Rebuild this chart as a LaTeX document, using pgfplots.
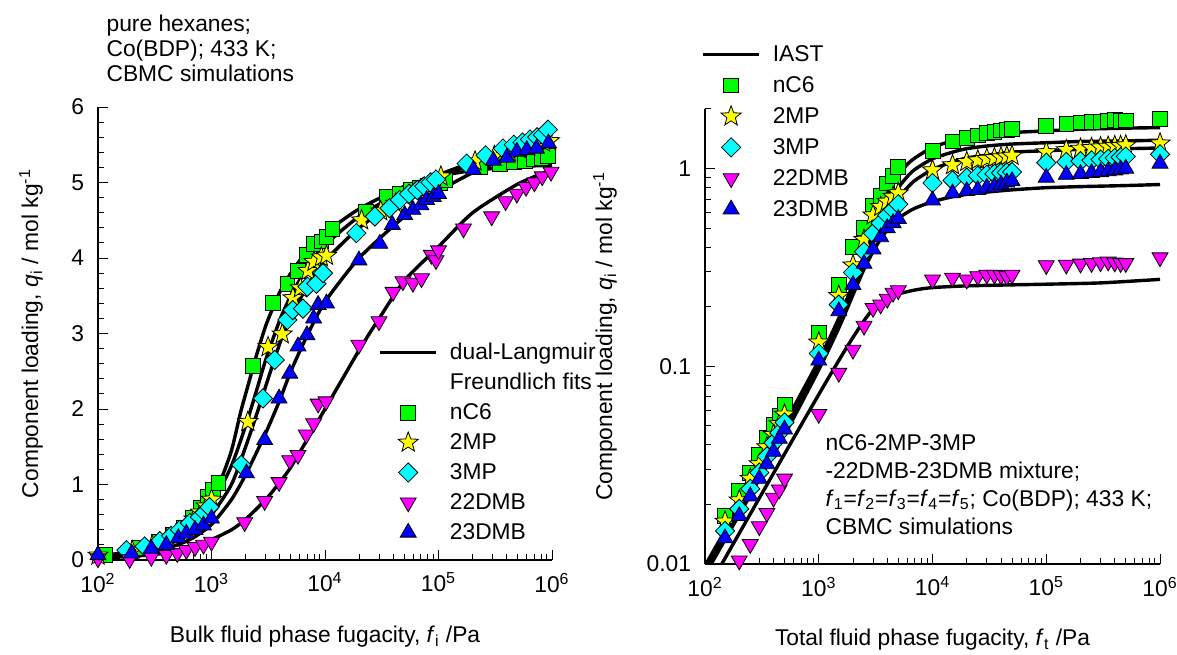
\documentclass[border=0pt]{standalone}
\usepackage{fontspec}
\setmainfont{Liberation Sans}
\usepackage{pgfplots}
\pgfplotsset{compat=1.18}

\definecolor{cgreen}{RGB}{0,255,0}
\definecolor{cyellow}{RGB}{255,255,0}
\definecolor{ccyan}{RGB}{0,255,255}
\definecolor{cmag}{RGB}{255,0,255}
\definecolor{cblue}{RGB}{0,0,255}

\pgfdeclareplotmark{fstar}{%
  \pgfpathmoveto{\pgfpointpolar{90}{\pgfplotmarksize}}%
  \pgfpathlineto{\pgfpointpolar{126}{0.42\pgfplotmarksize}}%
  \pgfpathlineto{\pgfpointpolar{162}{\pgfplotmarksize}}%
  \pgfpathlineto{\pgfpointpolar{198}{0.42\pgfplotmarksize}}%
  \pgfpathlineto{\pgfpointpolar{234}{\pgfplotmarksize}}%
  \pgfpathlineto{\pgfpointpolar{270}{0.42\pgfplotmarksize}}%
  \pgfpathlineto{\pgfpointpolar{306}{\pgfplotmarksize}}%
  \pgfpathlineto{\pgfpointpolar{342}{0.42\pgfplotmarksize}}%
  \pgfpathlineto{\pgfpointpolar{18}{\pgfplotmarksize}}%
  \pgfpathlineto{\pgfpointpolar{54}{0.42\pgfplotmarksize}}%
  \pgfpathclose
  \pgfusepathqfillstroke
}

\pgfplotsset{
  sNC/.style={only marks, mark=square*, mark size=3.7pt, mark options={solid, draw=black, fill=cgreen, line width=0.4pt}},
  sMP/.style={only marks, mark=fstar, mark size=5.3pt, mark options={solid, draw=black, fill=cyellow, line width=0.4pt}},
  sTP/.style={only marks, mark=square*, mark size=3.4pt, mark options={solid, draw=black, fill=ccyan, line width=0.4pt, rotate=45}},
  sDD/.style={only marks, mark=triangle*, mark size=4.6pt, mark options={solid, draw=black, fill=cmag, line width=0.4pt, rotate=180}},
  sDT/.style={only marks, mark=triangle*, mark size=4.6pt, mark options={solid, draw=black, fill=cblue, line width=0.4pt}},
  dlf/.style={black, line width=1.7pt, smooth, tension=0.4, no marks, forget plot},
}

\begin{document}
\fontsize{11.4pt}{13.7pt}\selectfont
\begin{tikzpicture}
\useasboundingbox (0,0) rectangle (588.5pt,327pt);

% ---------------- left: pure components ----------------
\begin{axis}[
  scale only axis, xmode=log, xmin=100, xmax=1000000,
  clip mode=individual,
  axis lines=left, axis line style={-, line width=0.6pt},
  tick align=inside, major tick length=5pt, minor tick length=3.2pt,
  tick style={black, line width=0.5pt},
  xtick={100,1000,10000,100000,1000000},
  xticklabels={10\textsuperscript{2},10\textsuperscript{3},10\textsuperscript{4},10\textsuperscript{5},10\textsuperscript{6}},
  minor xtick={200,300,400,500,600,700,800,900,2000,3000,4000,5000,6000,7000,8000,9000,20000,30000,40000,50000,60000,70000,80000,90000,200000,300000,400000,500000,600000,700000,800000,900000},
  xticklabel style={yshift=-2.5pt},
  yticklabel style={xshift=-3pt},
  legend cell align=left,
  legend image code/.code={\draw[mark repeat=2,mark phase=2,#1] plot coordinates {(0pt,0pt) (14pt,0pt) (28pt,0pt)};},
  at={(49pt,47pt)}, anchor=south west, width=227pt, height=226.5pt,
  ymin=0, ymax=6, ytick={0,1,2,3,4,5,6}, yticklabels={0,1,2,3,4,5,6}, minor y tick num=4,
  xlabel={Bulk fluid phase fugacity, \textit{f}\textsubscript{i} /Pa},
  ylabel={Component loading, \textit{q}\textsubscript{i} / mol kg\textsuperscript{-1}},
  xlabel style={at={(axis description cs:0.5,-0.170)}, anchor=center},
  ylabel style={at={(axis description cs:-0.1476,0.5)}, anchor=center},
  legend style={at={(axis description cs:0.617,0.492)}, anchor=north west, draw=none, fill=none,
    inner sep=0pt, row sep=0pt, column sep=6pt,
    nodes={inner sep=0pt, text height=11pt, text depth=4pt}},
]
% fits
\addplot[dlf] coordinates {(100,0.05) (200,0.11) (300,0.18) (500,0.34) (700,0.52) (1000,0.85) (1200,1.05) (1500,1.45) (1800,1.95) (2000,2.2) (2500,2.72) (3000,3.1) (3500,3.35) (4000,3.55) (5000,3.8) (7000,4.1) (10000,4.33) (20000,4.65) (50000,4.95) (100000,5.08) (200000,5.16) (500000,5.21) (1000000,5.23)};
\addplot[dlf] coordinates {(100,0.045) (300,0.16) (500,0.3) (700,0.45) (1000,0.72) (1500,1.25) (2000,1.78) (2500,2.25) (3000,2.65) (4000,3.18) (5000,3.5) (7000,3.88) (10000,4.17) (20000,4.55) (50000,4.9) (100000,5.1) (200000,5.27) (500000,5.45) (1000000,5.55)};
\addplot[dlf] coordinates {(100,0.04) (300,0.14) (500,0.26) (700,0.39) (1000,0.6) (1500,1.0) (2000,1.5) (2500,1.93) (3000,2.3) (4000,2.87) (5000,3.22) (7000,3.63) (10000,3.96) (20000,4.4) (50000,4.82) (100000,5.05) (200000,5.25) (500000,5.47) (1000000,5.62)};
\addplot[dlf] coordinates {(100,0.035) (300,0.11) (500,0.2) (700,0.3) (1000,0.47) (1500,0.8) (2000,1.13) (3000,1.68) (4000,2.12) (5000,2.5) (7000,2.98) (10000,3.42) (20000,4.0) (50000,4.55) (100000,4.88) (200000,5.13) (500000,5.38) (1000000,5.52)};
\addplot[dlf] coordinates {(100,0.02) (300,0.07) (500,0.12) (700,0.18) (1000,0.27) (1500,0.4) (2000,0.54) (3000,0.8) (4000,1.03) (5000,1.23) (7000,1.6) (10000,2.0) (20000,2.78) (30000,3.2) (50000,3.7) (100000,4.15) (200000,4.6) (500000,4.98) (1000000,5.17)};
\addlegendimage{black, line width=1.7pt}
\addlegendentry{dual-Langmuir}
\addlegendimage{empty legend}
\addlegendentry{Freundlich fits}
% nC6
\addplot[sNC] coordinates {(115,0.07) (230,0.16) (345,0.24) (460,0.33) (575,0.43) (690,0.56) (805,0.69) (920,0.84) (1035,0.93) (1150,1.02) (2320,2.57) (3480,3.41) (4660,3.66) (5780,3.83) (6850,4.04) (8000,4.19) (9290,4.22) (10300,4.28) (11600,4.39) (23100,4.61) (34700,4.81) (46000,4.85) (57500,4.90) (69000,4.93) (80500,4.96) (92000,4.99) (103500,5.00) (115000,5.03) (230000,5.20) (345000,5.25) (460000,5.27) (575000,5.29) (690000,5.31) (805000,5.33) (920000,5.35)};
\addlegendentry{nC6}
% 2MP
\addplot[sMP] coordinates {(100,0.06) (200,0.12) (300,0.19) (400,0.27) (500,0.35) (600,0.44) (700,0.54) (800,0.63) (900,0.71) (1000,0.80) (2090,1.83) (3150,2.82) (4200,2.99) (5220,3.47) (6070,3.60) (7080,3.83) (8000,3.95) (9290,4.01) (10300,4.03) (21000,4.50) (31000,4.62) (42000,4.72) (52000,4.80) (62000,4.86) (72000,4.92) (83000,4.97) (94000,5.02) (105000,5.08) (210000,5.28) (310000,5.35) (420000,5.40) (520000,5.44) (620000,5.48) (730000,5.51) (840000,5.53) (950000,5.55)};
\addlegendentry{2MP}
% 3MP
\addplot[sTP] coordinates {(178,0.13) (257,0.18) (350,0.25) (440,0.32) (527,0.40) (645,0.49) (790,0.57) (870,0.63) (960,0.70) (1830,1.26) (2840,2.14) (3600,2.65) (4660,3.18) (5200,3.31) (6400,3.33) (7000,3.62) (8400,3.66) (9600,3.80) (18900,4.33) (27500,4.55) (37000,4.66) (45500,4.77) (55000,4.85) (65000,4.90) (75000,4.95) (85000,5.00) (95000,5.04) (177000,5.25) (260000,5.36) (370000,5.45) (460000,5.50) (550000,5.53) (640000,5.57) (740000,5.60) (830000,5.63) (920000,5.70)};
\addlegendentry{3MP}
% 22DMB
\addplot[sDD] coordinates {(100,0.02) (190,0.01) (295,0.04) (400,0.066) (500,0.09) (600,0.13) (716,0.17) (850,0.20) (1000,0.24) (1960,0.50) (2940,0.78) (3940,1.03) (4890,1.32) (5780,1.39) (6840,1.66) (7940,1.81) (8700,2.07) (10200,2.10) (19900,2.85) (29900,3.16) (39800,3.55) (48600,3.69) (59500,3.67) (70800,3.73) (86500,4.04) (95000,3.97) (100000,4.10) (166000,4.39) (294000,4.55) (390000,4.75) (490000,4.85) (590000,4.94) (700000,5.00) (820000,5.08) (980000,5.14)};
\addlegendentry{22DMB}
% 23DMB
\addplot[sDT] coordinates {(100,0.066) (198,0.088) (295,0.15) (400,0.20) (510,0.29) (600,0.35) (716,0.40) (850,0.46) (1000,0.55) (2030,1.15) (2940,1.59) (3940,2.14) (4890,2.47) (5780,2.83) (6930,2.98) (7940,3.20) (8700,3.38) (10300,3.40) (19900,3.97) (30400,4.19) (39200,4.44) (50400,4.57) (59500,4.64) (70000,4.70) (78500,4.77) (90000,4.81) (100000,4.85) (203000,5.17) (304000,5.29) (400000,5.33) (490000,5.41) (600000,5.43) (730000,5.45) (930000,5.52)};
\addlegendentry{23DMB}
\node[anchor=north west, align=left, inner sep=0pt, font=\fontsize{11.4pt}{12.5pt}\selectfont] at (axis description cs:0.018,1.205) {pure hexanes;\\Co(BDP); 433 K;\\CBMC simulations};
\end{axis}

% ---------------- right: mixture ----------------
\begin{axis}[
  scale only axis, xmode=log, xmin=100, xmax=1000000,
  clip mode=individual,
  axis lines=left, axis line style={-, line width=0.6pt},
  tick align=inside, major tick length=5pt, minor tick length=3.2pt,
  tick style={black, line width=0.5pt},
  xtick={100,1000,10000,100000,1000000},
  xticklabels={10\textsuperscript{2},10\textsuperscript{3},10\textsuperscript{4},10\textsuperscript{5},10\textsuperscript{6}},
  minor xtick={200,300,400,500,600,700,800,900,2000,3000,4000,5000,6000,7000,8000,9000,20000,30000,40000,50000,60000,70000,80000,90000,200000,300000,400000,500000,600000,700000,800000,900000},
  xticklabel style={yshift=-2.5pt},
  yticklabel style={xshift=-3pt},
  legend cell align=left,
  legend image code/.code={\draw[mark repeat=2,mark phase=2,#1] plot coordinates {(0pt,0pt) (14pt,0pt) (28pt,0pt)};},
  at={(352.5pt,45pt)}, anchor=south west, width=227.5pt, height=227.5pt,
  ymode=log, ymin=0.01, ymax=2,
  ytick={0.01,0.1,1}, yticklabels={0.01,0.1,1},
  minor ytick={0.02,0.03,0.04,0.05,0.06,0.07,0.08,0.09,0.2,0.3,0.4,0.5,0.6,0.7,0.8,0.9,2},
  xlabel={Total fluid phase fugacity, \textit{f}\textsubscript{t} /Pa},
  ylabel={Component loading, \textit{q}\textsubscript{i} / mol kg\textsuperscript{-1}},
  xlabel style={at={(axis description cs:0.5,-0.167)}, anchor=center},
  ylabel style={at={(axis description cs:-0.2198,0.5)}, anchor=center},
  legend style={at={(axis description cs:-0.0088,1.155)}, anchor=north west, draw=none, fill=none,
    inner sep=0pt, row sep=0pt, column sep=6pt,
    nodes={inner sep=0pt, text height=11.25pt, text depth=4.25pt}},
]
% IAST
\addplot[dlf] coordinates {(100,0.0098) (200,0.0198) (500,0.051) (1000,0.107) (1500,0.175) (2000,0.26) (2500,0.36) (3000,0.48) (3500,0.6) (4000,0.72) (4500,0.83) (5000,0.92) (6000,1.05) (7000,1.13) (10000,1.28) (15000,1.38) (20000,1.43) (30000,1.48) (50000,1.52) (100000,1.55) (200000,1.58) (500000,1.6) (1000000,1.61)};
\addplot[dlf] coordinates {(100,0.0095) (200,0.0192) (500,0.049) (1000,0.103) (1500,0.168) (2000,0.25) (2500,0.345) (3000,0.45) (3500,0.55) (4000,0.64) (4500,0.72) (5000,0.8) (6000,0.91) (7000,0.99) (10000,1.12) (15000,1.21) (20000,1.26) (30000,1.3) (50000,1.33) (100000,1.35) (200000,1.37) (500000,1.38) (1000000,1.39)};
\addplot[dlf] coordinates {(100,0.0092) (200,0.0186) (500,0.047) (1000,0.1) (1500,0.163) (2000,0.24) (2500,0.33) (3000,0.42) (3500,0.5) (4000,0.58) (4500,0.65) (5000,0.71) (6000,0.8) (7000,0.87) (10000,0.99) (15000,1.08) (20000,1.13) (30000,1.17) (50000,1.21) (100000,1.23) (200000,1.25) (500000,1.26) (1000000,1.27)};
\addplot[dlf] coordinates {(100,0.0088) (200,0.0178) (500,0.045) (1000,0.096) (1500,0.156) (2000,0.23) (2500,0.31) (3000,0.38) (3500,0.44) (4000,0.49) (4500,0.53) (5000,0.56) (6000,0.6) (7000,0.63) (10000,0.68) (15000,0.72) (20000,0.74) (30000,0.76) (50000,0.78) (100000,0.8) (200000,0.81) (500000,0.82) (1000000,0.83)};
\addplot[dlf] coordinates {(100,0.0071) (200,0.0143) (500,0.036) (1000,0.072) (1500,0.107) (2000,0.14) (2500,0.17) (3000,0.195) (3500,0.21) (4000,0.22) (5000,0.232) (7000,0.243) (10000,0.25) (20000,0.255) (50000,0.258) (100000,0.26) (300000,0.264) (1000000,0.275)};
\addlegendimage{black, line width=1.7pt}
\addlegendentry{IAST}
% nC6
\addplot[sNC] coordinates {(150,0.0175) (200,0.0234) (250,0.0288) (300,0.0355) (350,0.0436) (400,0.0505) (450,0.056) (500,0.0637) (1000,0.147) (1500,0.258) (2000,0.40) (2500,0.50) (3000,0.645) (3500,0.73) (4000,0.84) (4500,0.92) (5000,1.02) (10000,1.23) (15000,1.37) (20000,1.43) (25000,1.47) (30000,1.51) (35000,1.53) (40000,1.56) (45000,1.57) (50000,1.59) (100000,1.65) (150000,1.68) (200000,1.71) (250000,1.72) (300000,1.72) (350000,1.74) (400000,1.76) (450000,1.74) (500000,1.75) (1000000,1.79)};
\addlegendentry{nC6}
% 2MP
\addplot[sMP] coordinates {(150,0.0164) (200,0.021) (250,0.027) (300,0.032) (350,0.039) (400,0.045) (450,0.051) (500,0.057) (1000,0.132) (1500,0.227) (2000,0.324) (2500,0.436) (3000,0.58) (3500,0.64) (4000,0.68) (4500,0.72) (5000,0.75) (10000,0.98) (15000,1.04) (20000,1.08) (25000,1.10) (30000,1.12) (35000,1.13) (40000,1.14) (45000,1.15) (50000,1.16) (100000,1.21) (150000,1.24) (200000,1.26) (250000,1.27) (300000,1.28) (350000,1.29) (400000,1.30) (450000,1.30) (500000,1.31) (1000000,1.34)};
\addlegendentry{2MP}
% 3MP
\addplot[sTP] coordinates {(150,0.0147) (200,0.019) (250,0.024) (300,0.029) (350,0.035) (400,0.041) (450,0.046) (500,0.052) (1000,0.116) (1500,0.205) (2000,0.298) (2500,0.38) (3000,0.47) (3500,0.53) (4000,0.58) (4500,0.62) (5000,0.66) (10000,0.845) (15000,0.87) (20000,0.90) (25000,0.92) (30000,0.93) (35000,0.94) (40000,0.95) (45000,0.955) (50000,0.96) (100000,1.07) (150000,1.08) (200000,1.09) (250000,1.10) (300000,1.11) (350000,1.12) (400000,1.13) (450000,1.14) (500000,1.15) (1000000,1.18)};
\addlegendentry{3MP}
% 22DMB
\addplot[sDD] coordinates {(200,0.0104) (250,0.0126) (300,0.0155) (350,0.0181) (400,0.0216) (450,0.0238) (500,0.027) (1000,0.0573) (1500,0.0925) (2000,0.121) (2500,0.16) (3000,0.197) (3500,0.205) (4000,0.219) (4500,0.235) (5000,0.242) (10000,0.274) (15000,0.28) (20000,0.274) (25000,0.285) (30000,0.29) (35000,0.29) (40000,0.288) (45000,0.285) (50000,0.29) (100000,0.324) (150000,0.326) (200000,0.33) (250000,0.332) (300000,0.335) (350000,0.338) (400000,0.334) (450000,0.332) (500000,0.332) (1000000,0.355)};
\addlegendentry{22DMB}
% 23DMB
\addplot[sDT] coordinates {(150,0.0135) (200,0.0175) (250,0.022) (300,0.027) (350,0.032) (400,0.037) (450,0.043) (500,0.048) (1000,0.107) (1500,0.19) (2000,0.258) (2500,0.33) (3000,0.39) (3500,0.45) (4000,0.50) (4500,0.53) (5000,0.557) (10000,0.69) (15000,0.75) (20000,0.77) (25000,0.78) (30000,0.80) (35000,0.81) (40000,0.83) (45000,0.85) (50000,0.865) (100000,0.90) (150000,0.93) (200000,0.94) (250000,0.95) (300000,0.96) (350000,0.97) (400000,0.98) (450000,0.99) (500000,1.0) (1000000,1.06)};
\addlegendentry{23DMB}
\node[anchor=north west, align=left, inner sep=0pt, font=\fontsize{11.4pt}{14pt}\selectfont] at (axis description cs:0.264,0.2857) {nC6-2MP-3MP\\-22DMB-23DMB mixture;\\\textit{f}\textsubscript{1}=\textit{f}\textsubscript{2}=\textit{f}\textsubscript{3}=\textit{f}\textsubscript{4}=\textit{f}\textsubscript{5}; Co(BDP); 433 K;\\CBMC simulations};
\end{axis}
\end{tikzpicture}
\end{document}
